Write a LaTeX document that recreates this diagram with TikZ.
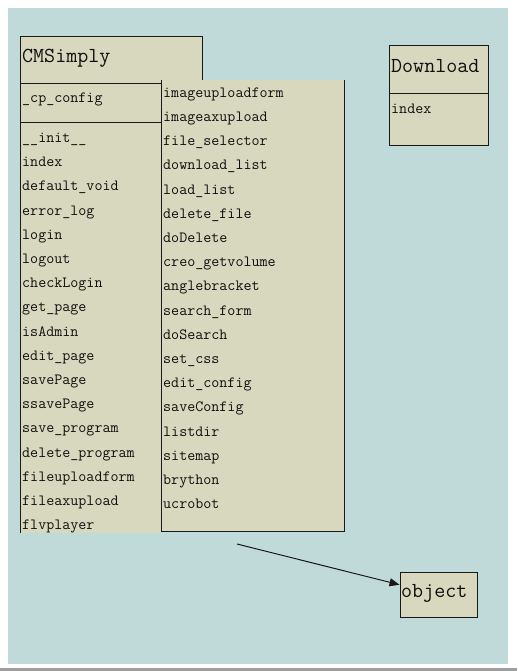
\documentclass[tikz,border=0pt]{standalone}
\usepackage{fontspec}
\usetikzlibrary{arrows.meta}
\definecolor{bgc}{RGB}{192,218,218}
\definecolor{boxc}{RGB}{216,216,190}
\definecolor{linec}{RGB}{25,25,25}
\definecolor{txtc}{RGB}{15,15,15}
\tikzset{
  meth/.style={anchor=base west, inner sep=0pt, text=txtc, font=\ttfamily\fontsize{15.6}{17}\selectfont},
  head/.style={anchor=base west, inner sep=0pt, text=txtc, font=\ttfamily\fontsize{21.4}{23}\selectfont},
  frame/.style={draw=linec, line width=1pt},
  objbox/.style={draw=linec, line width=1pt, fill=boxc, minimum width=77pt, minimum height=45pt, inner sep=0pt},
  link/.style={draw=linec, line width=1pt, -{Triangle[length=10pt,width=8pt]}}
}
\begin{document}
\begin{tikzpicture}[x=1pt,y=-1pt]
\useasboundingbox (0,0) rectangle (517,671);
\fill[white] (0,0) rectangle (517,671);
\fill[bgc] (8,8) rectangle (508,664);
\fill[gray!75] (0,668) rectangle (517,671);
% CMSimply class, left part
\fill[boxc] (20,37) rectangle (202,123);
\fill[boxc] (20,123) rectangle (161,533);
\draw[frame] (20,533) -- (20,37) -- (202,37) -- (202,123);
\draw[frame] (20,84) -- (202,84);
\draw[frame] (20,123) -- (202,123);
% right column of methods
\fill[boxc] (161,80) rectangle (344,531);
\draw[frame] (161,80) -- (161,531) -- (344,531) -- (344,80);
\node[head] (cmsname) at (22,63) {CMSimply};
\node[meth] (cpconfig) at (22,103) {\_cp\_config};
\foreach \t [count=\i from 0] in {\_\_init\_\_,index,default\_void,error\_log,login,logout,checkLogin,get\_page,isAdmin,edit\_page,savePage,ssavePage,save\_program,delete\_program,fileuploadform,fileaxupload,flvplayer}
  \node[meth] (l\i) at (22,{142.4+24.2*\i}) {\t};
\foreach \t [count=\i from 0] in {imageuploadform,imageaxupload,file\_selector,download\_list,load\_list,delete\_file,doDelete,creo\_getvolume,anglebracket,search\_form,doSearch,set\_css,edit\_config,saveConfig,listdir,sitemap,brython,ucrobot}
  \node[meth] (r\i) at (163,{97.3+24.2*\i}) {\t};
% Download class
\fill[boxc] (389,46) rectangle (488,146);
\draw[frame] (389,46) rectangle (488,146);
\draw[frame] (389,94) -- (488,94);
\node[head] (dlname) at (391,72.5) {Download};
\node[meth] (dlindex) at (391,114) {index};
% object
\node[objbox] (obj) at (438.5,594.5) {};
\node[head] (objname) at (401,597.5) {object};
\coordinate (src) at (237,544);
\draw[link] (src) -- (obj);
\end{tikzpicture}
\end{document}
